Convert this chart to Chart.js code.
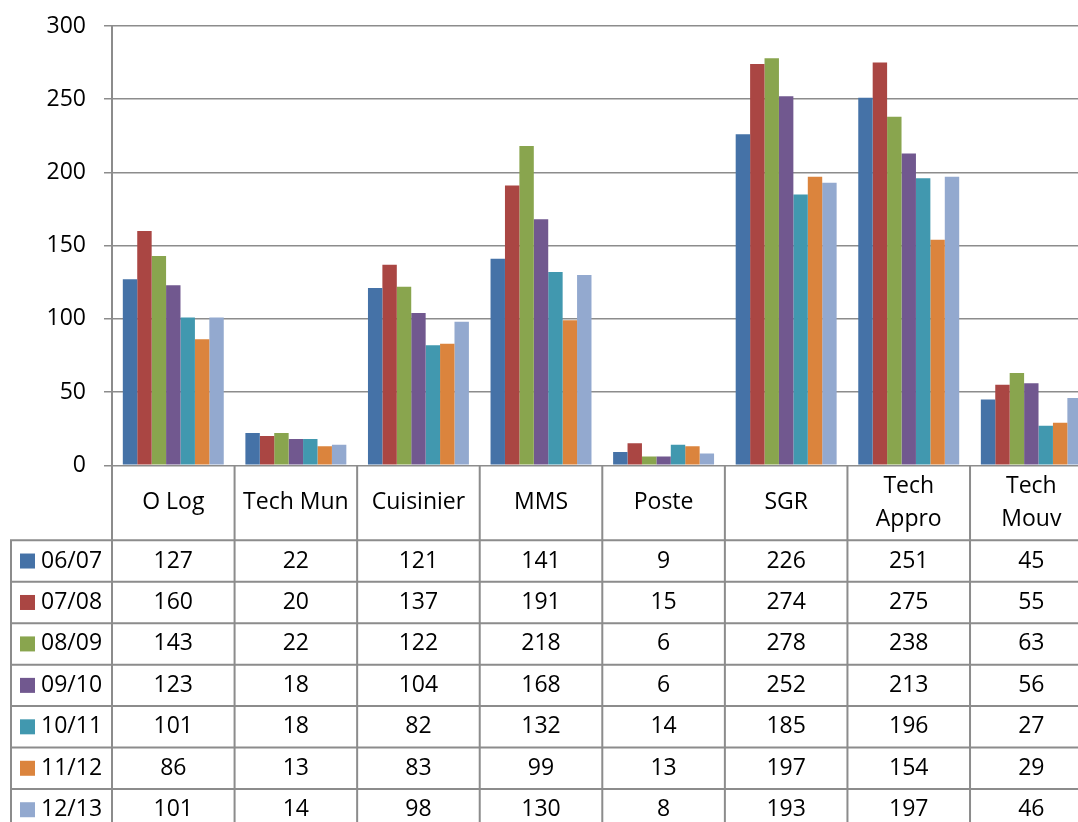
<!DOCTYPE html>
<html>
<head>
<meta charset="utf-8">
<script src="https://cdn.jsdelivr.net/npm/chart.js@4/dist/chart.umd.min.js"></script>
<style>
  html, body { margin: 0; padding: 0; background: #fff; width: 1078px; height: 822px; overflow: hidden; }
  canvas { position: absolute; left: 0; top: 0; }
</style>
</head>
<body>
<canvas id="c" width="1100" height="840"></canvas>
<script>
// Categories (header row of the data table; multi-line where wrapped)
const categories = [['O Log'], ['Tech Mun'], ['Cuisinier'], ['MMS'], ['Poste'], ['SGR'], ['Tech', 'Appro'], ['Tech', 'Mouv']];

// One series per school year
const seriesLabels = ['06/07', '07/08', '08/09', '09/10', '10/11', '11/12', '12/13'];
const s0607 = [127, 22, 121, 141, 9, 226, 251, 45];
const s0708 = [160, 20, 137, 191, 15, 274, 275, 55];
const s0809 = [143, 22, 122, 218, 6, 278, 238, 63];
const s0910 = [123, 18, 104, 168, 6, 252, 213, 56];
const s1011 = [101, 18, 82, 132, 14, 185, 196, 27];
const s1112 = [86, 13, 83, 99, 13, 197, 154, 29];
const s1213 = [101, 14, 98, 130, 8, 193, 197, 46];
const seriesValues = [s0607, s0708, s0809, s0910, s1011, s1112, s1213];

// Y axis ticks
const yTicks = [0, 50, 100, 150, 200, 250, 300];

const colors = ['#4572A7', '#AA4643', '#89A54E', '#71588F', '#4198AF', '#DB843D', '#93A9CF'];
const FONT = '"Open Sans", Lato, sans-serif';
const FONT_SIZE = 23;
const LINE = '#8c8c8c';

// Data table geometry
const TABLE_LEFT = 11;
const HEADER_H = 75;
const ROW_H = 41.45;

const tablePlugin = {
  id: 'dataTable',
  afterDraw(chart) {
    const ctx = chart.ctx;
    const area = chart.chartArea;
    const xs = chart.scales.x;
    const n = categories.length;
    const colW = (area.right - area.left) / n;
    const top = area.bottom;
    const headBottom = top + HEADER_H;
    const bottom = headBottom + ROW_H * seriesLabels.length;

    ctx.save();
    ctx.strokeStyle = LINE;
    ctx.lineWidth = 2;
    ctx.beginPath();
    for (let i = 0; i <= n; i++) {
      const x = area.left + i * colW;
      ctx.moveTo(x, top);
      ctx.lineTo(x, bottom);
    }
    ctx.moveTo(TABLE_LEFT, headBottom);
    ctx.lineTo(TABLE_LEFT, bottom);
    for (let r = 0; r <= seriesLabels.length; r++) {
      const y = headBottom + r * ROW_H;
      ctx.moveTo(TABLE_LEFT - 1, y);
      ctx.lineTo(area.right, y);
    }
    ctx.stroke();

    ctx.fillStyle = '#000';
    ctx.font = FONT_SIZE + 'px ' + FONT;
    ctx.textAlign = 'center';
    ctx.textBaseline = 'middle';

    // header row
    const lineGap = 33;
    categories.forEach((lines, i) => {
      const cx = xs.getPixelForValue(i);
      const cy = (top + headBottom) / 2;
      const y0 = cy - (lines.length - 1) * lineGap / 2;
      lines.forEach((t, k) => ctx.fillText(t, cx, y0 + k * lineGap));
    });

    // value rows with legend keys
    seriesLabels.forEach((lab, r) => {
      const cy = headBottom + r * ROW_H + ROW_H / 2;
      ctx.fillStyle = colors[r];
      ctx.fillRect(20, cy - 7.5, 15, 15);
      ctx.fillStyle = '#000';
      ctx.textAlign = 'left';
      ctx.fillText(lab, 41, cy);
      ctx.textAlign = 'center';
      seriesValues[r].forEach((v, i) => {
        ctx.fillText(String(v), xs.getPixelForValue(i), cy);
      });
    });
    ctx.restore();
  }
};

new Chart(document.getElementById('c'), {
  type: 'bar',
  data: {
    labels: categories,
    datasets: seriesLabels.map((lab, r) => ({
      label: lab,
      data: seriesValues[r],
      backgroundColor: colors[r],
      borderWidth: 0,
      barPercentage: 1,
      categoryPercentage: 7 / 8.5
    }))
  },
  options: {
    responsive: false,
    animation: false,
    devicePixelRatio: 1,
    layout: { padding: { top: 26, right: 7.4, bottom: 374.7, left: 0 } },
    plugins: { legend: { display: false }, tooltip: { enabled: false } },
    scales: {
      x: { display: false },
      y: {
        min: 0,
        max: 300,
        afterBuildTicks(scale) { scale.ticks = yTicks.map(v => ({ value: v })); },
        afterFit(scale) {
          scale.width = 112;
          scale.paddingTop = 0;
          scale.paddingBottom = 0;
        },
        ticks: { color: '#000', font: { family: FONT, size: FONT_SIZE }, padding: 18 },
        grid: { color: LINE, lineWidth: 1.5, tickLength: 8 },
        border: { color: LINE, width: 2 }
      }
    }
  },
  plugins: [tablePlugin]
});
</script>
</body>
</html>
